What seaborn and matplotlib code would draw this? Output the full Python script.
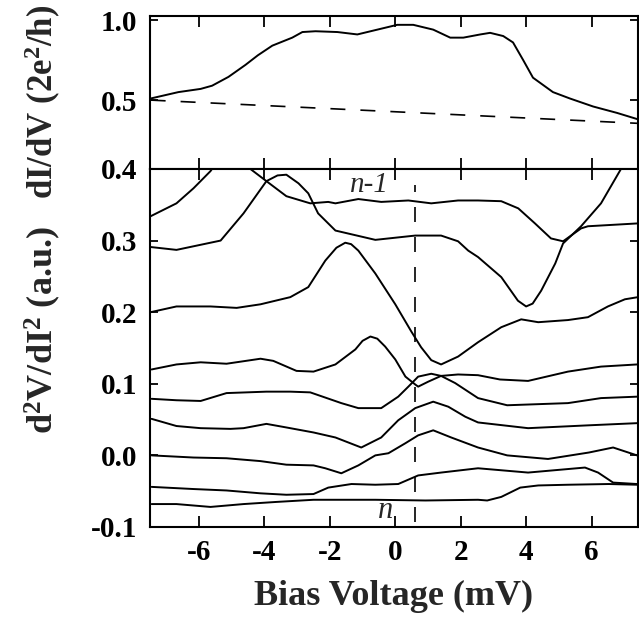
import matplotlib
matplotlib.use("Agg")
import matplotlib.pyplot as plt
import seaborn as sns
from matplotlib.ticker import FormatStrFormatter

# === top panel: dI/dV (2e^2/h)
g_x = [-7.48, -6.63, -5.95, -5.6, -5.1, -4.58, -4.2, -3.76, -3.15, -2.84, -2.44, -1.77,
       -1.16, -0.55, 0.06, 0.55, 1.16, 1.68, 2.08, 2.6, 2.9, 3.3, 3.6, 3.91, 4.21, 4.82,
       5.34, 6.05, 6.78, 7.42]
g_y = [0.51, 0.55, 0.57, 0.59, 0.645, 0.72, 0.78, 0.84, 0.89, 0.925, 0.93, 0.925,
       0.91, 0.94, 0.97, 0.97, 0.94, 0.89, 0.89, 0.91, 0.92, 0.90, 0.86, 0.75, 0.64, 0.55,
       0.51, 0.46, 0.42, 0.38]
base_x = [-7.48, 7.42]
base_y = [0.50, 0.355]

# === bottom panel: d2V/dI2 traces (offset), top to bottom
n1_x = [-7.48, -6.69, -6.17, -5.65, -5.3, -4.9, -4.6, -4.43, -3.94, -3.33, -2.60, -2.05,
        -1.83, -1.13, -0.43, 0.40, 1.10, 1.92, 2.53, 3.24, 3.76, 4.27, 4.76, 5.13, 5.68,
        5.89, 7.42]
n1_y = [0.334, 0.352, 0.373, 0.397, 0.42, 0.43, 0.415, 0.40, 0.383, 0.362, 0.352, 0.354,
        0.352, 0.358, 0.354, 0.356, 0.352, 0.356, 0.356, 0.355, 0.345, 0.324, 0.303, 0.299,
        0.317, 0.32, 0.324]

b_x = [-7.48, -6.69, -5.34, -4.64, -3.94, -3.6, -3.33, -2.96, -2.66, -2.36, -1.83, -0.61,
       0.0, 0.61, 1.40, 1.92, 2.23, 2.53, 3.24, 3.75, 4.0, 4.2, 4.46, 4.89, 5.13, 5.68,
       6.29, 6.9, 7.3]
b_y = [0.291, 0.287, 0.30, 0.338, 0.383, 0.391, 0.392, 0.38, 0.366, 0.338, 0.314, 0.301,
       0.304, 0.307, 0.307, 0.299, 0.286, 0.277, 0.249, 0.216, 0.208, 0.212, 0.23, 0.268,
       0.296, 0.32, 0.352, 0.40, 0.44]

c_x = [-7.48, -6.69, -5.65, -4.85, -4.12, -3.21, -2.66, -2.14, -1.8, -1.53, -1.35, -1.13,
       -0.61, 0.0, 0.49, 0.79, 1.1, 1.40, 1.92, 2.53, 3.24, 3.85, 4.37, 5.28, 5.89, 6.50,
       7.02, 7.42]
c_y = [0.200, 0.208, 0.208, 0.206, 0.211, 0.221, 0.235, 0.272, 0.29, 0.297, 0.295, 0.286,
       0.254, 0.211, 0.173, 0.151, 0.133, 0.127, 0.138, 0.158, 0.179, 0.19, 0.186, 0.189,
       0.193, 0.208, 0.218, 0.221]

d_x = [-7.45, -6.69, -5.95, -5.16, -4.12, -3.73, -3.02, -2.50, -1.83, -1.22, -1.0, -0.76,
       -0.55, -0.31, 0.0, 0.31, 0.61, 0.70, 1.01, 1.40, 1.92, 2.53, 3.2, 4.06, 5.28, 6.29,
       7.39]
d_y = [0.12, 0.127, 0.13, 0.128, 0.135, 0.132, 0.118, 0.117, 0.127, 0.148, 0.16, 0.166,
       0.163, 0.152, 0.134, 0.11, 0.099, 0.096, 0.103, 0.111, 0.113, 0.112, 0.106, 0.104,
       0.117, 0.124, 0.127]

e_x = [-7.45, -6.69, -5.95, -5.16, -3.94, -3.21, -2.60, -1.65, -1.13, -0.43, 0.09, 0.40,
       0.70, 1.10, 1.40, 1.83, 2.23, 2.53, 3.42, 5.28, 6.29, 7.39]
e_y = [0.079, 0.077, 0.076, 0.087, 0.089, 0.089, 0.088, 0.073, 0.066, 0.066, 0.082, 0.096,
       0.11, 0.114, 0.111, 0.101, 0.089, 0.080, 0.070, 0.073, 0.08, 0.082]

f_x = [-7.45, -6.69, -5.95, -5.04, -4.64, -3.94, -3.33, -2.50, -1.83, -1.04, -0.43, 0.09,
       0.61, 1.16, 1.62, 2.14, 2.53, 4.06, 5.92, 7.39]
f_y = [0.051, 0.041, 0.038, 0.037, 0.038, 0.044, 0.039, 0.032, 0.025, 0.011, 0.025, 0.049,
       0.066, 0.075, 0.068, 0.054, 0.046, 0.038, 0.042, 0.045]

h_x = [-7.45, -6.17, -5.16, -4.12, -3.33, -2.50, -2.14, -1.65, -1.13, -0.61, -0.21, 0.31,
       0.70, 1.16, 1.71, 2.53, 3.42, 4.67, 5.92, 6.66, 7.39]
h_y = [0.0, -0.003, -0.004, -0.008, -0.013, -0.014, -0.018, -0.025, -0.014, 0.0, 0.003,
       0.017, 0.028, 0.035, 0.025, 0.011, 0.0, -0.005, 0.004, 0.011, 0.0]

k_x = [-7.45, -6.17, -5.16, -4.12, -3.33, -2.50, -2.05, -1.34, -0.61, 0.09, 0.70, 1.40,
       2.53, 4.06, 5.80, 6.2, 6.66, 7.39]
k_y = [-0.044, -0.047, -0.049, -0.053, -0.055, -0.054, -0.045, -0.040, -0.041, -0.040,
       -0.028, -0.024, -0.018, -0.024, -0.017, -0.024, -0.038, -0.040]

n_x = [-7.45, -6.69, -5.65, -4.64, -3.63, -2.50, -0.61, 0.92, 2.53, 2.81, 3.24, 3.82,
       4.37, 5.28, 6.53, 7.39]
n_y = [-0.068, -0.068, -0.072, -0.068, -0.065, -0.062, -0.062, -0.063, -0.062, -0.063,
       -0.058, -0.045, -0.042, -0.041, -0.040, -0.041]

marker_v = 0.6  # dashed vertical line (mV)
xticks = [-6, -4, -2, 0, 2, 4, 6]

# === style
sns.set_theme(style="ticks")
plt.rcParams["font.family"] = ["Liberation Serif", "DejaVu Serif"]
plt.rcParams["font.weight"] = "bold"
plt.rcParams["axes.unicode_minus"] = False
plt.rcParams["mathtext.fontset"] = "custom"
plt.rcParams["mathtext.rm"] = "Liberation Serif:bold"
plt.rcParams["mathtext.bf"] = "Liberation Serif:bold"
plt.rcParams["mathtext.it"] = "Liberation Serif:italic:bold"
plt.rcParams["axes.linewidth"] = 1.5

fig = plt.figure(figsize=(6.39, 6.21), dpi=100)
ax_top = fig.add_axes([0.2347, 0.7279, 0.7637, 0.2463])
ax_bot = fig.add_axes([0.2347, 0.1514, 0.7637, 0.5765])

lw = 1.4
sns.lineplot(x=g_x, y=g_y, ax=ax_top, color="black", linewidth=lw, sort=False, estimator=None)
sns.lineplot(x=base_x, y=base_y, ax=ax_top, color="black", linewidth=1.2,
             linestyle=(0, (9, 9)), sort=False, estimator=None)

for xs, ys in [(n1_x, n1_y), (b_x, b_y), (c_x, c_y), (d_x, d_y), (e_x, e_y),
               (f_x, f_y), (h_x, h_y), (k_x, k_y), (n_x, n_y)]:
    sns.lineplot(x=xs, y=ys, ax=ax_bot, color="black", linewidth=lw, sort=False, estimator=None)

ax_bot.axvline(marker_v, ymin=0.014, ymax=0.955, color="black", linewidth=1.2,
               linestyle=(0, (9, 9)))

ax_bot.text(-0.8, 0.377, "n-1", ha="center", va="center", fontsize=21,
            style="italic", weight="normal")
ax_bot.text(-0.3, -0.077, "n", ha="center", va="center", fontsize=22,
            style="italic", weight="normal")

for ax in (ax_top, ax_bot):
    ax.set_xlim(-7.5, 7.42)
    ax.set_xticks(xticks)
    ax.tick_params(axis="both", direction="in", top=True, right=True, width=1.3,
                   labelsize=21, colors="black")
    ax.tick_params(axis="x", length=8, pad=9)
    ax.tick_params(axis="y", length=6, pad=9)
    ax.yaxis.set_major_formatter(FormatStrFormatter("%.1f"))
    for s in ax.spines.values():
        s.set_color("black")

ax_top.set_ylim(0.07, 1.025)
ax_top.set_yticks([0.5, 1.0])
ax_top.tick_params(axis="x", labelbottom=False)
ax_top.set_ylabel(r"dI/dV (2e$^{\mathbf{2}}$/h)", fontsize=25, fontweight="bold")
ax_top.yaxis.set_label_coords(-0.178, 0.44)

ax_bot.set_ylim(-0.1, 0.4)
ax_bot.set_yticks([-0.1, 0.0, 0.1, 0.2, 0.3, 0.4])
ax_bot.set_ylabel(r"d$^{\mathbf{2}}$V/dI$^{\mathbf{2}}$ (a.u.)", fontsize=26, fontweight="bold")
ax_bot.yaxis.set_label_coords(-0.178, 0.55)
ax_bot.set_xlabel("Bias Voltage (mV)", fontsize=26, fontweight="bold", labelpad=10)

fig.savefig("out.png", dpi=100)
print("saved out.png")
